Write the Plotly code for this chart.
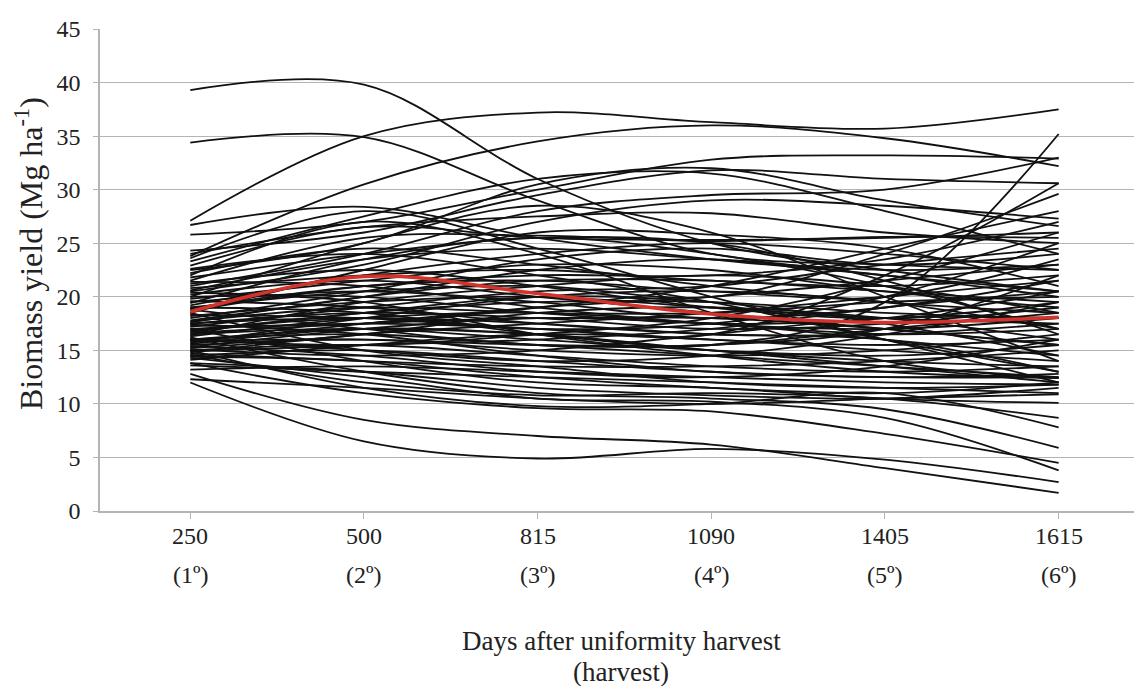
import plotly.graph_objects as go

days = ["250", "500", "815", "1090", "1405", "1615"]
harvests = ["(1º)", "(2º)", "(3º)", "(4º)", "(5º)", "(6º)"]

# Biomass yield (Mg/ha) of each genotype at each harvest (index i = genotype i)
y_250 = [39.3, 34.4, 27.1, 23.8, 26.7, 25.8, 24.3, 22.5, 21.0, 23.3,
         20.5, 24.0, 16.0, 17.5, 19.0, 22.9, 21.5, 23.6, 22.0, 20.0,
         21.8, 18.5, 20.8, 19.8, 19.5, 18.9, 18.2, 17.8, 17.5, 17.2,
         17.0, 16.8, 16.5, 16.3, 16.0, 15.8, 15.5, 15.3, 15.0, 14.8,
         14.5, 14.1, 13.2, 12.3, 12.0, 12.8, 13.8, 14.3, 16.2, 15.0,
         14.6, 17.0, 13.6, 18.5, 20.2, 21.2, 19.2, 18.0, 17.7, 16.9,
         16.6, 16.4, 15.9, 15.6, 15.2, 14.9, 14.7, 19.6, 20.6, 22.2,
         19.0, 18.7, 18.3, 17.4, 16.1, 15.4, 14.4, 13.8, 17.6, 20.0,
         21.4, 19.4, 16.7, 15.7, 15.1, 18.8, 17.3, 16.0, 22.6, 20.4]
y_500 = [39.8, 34.9, 35.0, 30.5, 28.4, 27.0, 26.0, 25.0, 24.0, 27.5,
         23.0, 26.5, 17.0, 18.0, 20.5, 26.5, 25.5, 28.0, 27.0, 25.0,
         24.0, 22.5, 22.0, 21.5, 20.5, 21.0, 19.5, 20.0, 18.5, 19.0,
         17.5, 18.5, 17.0, 18.0, 16.5, 17.5, 16.0, 17.0, 15.5, 16.5,
         15.0, 15.5, 13.5, 11.5, 6.5, 8.5, 11.0, 12.5, 13.0, 11.5,
         12.0, 14.0, 13.0, 15.0, 21.5, 22.5, 22.0, 20.5, 19.0, 18.0,
         17.5, 19.5, 16.0, 17.0, 16.5, 15.5, 14.0, 19.0, 23.5, 24.5,
         18.5, 21.0, 18.0, 16.5, 15.0, 14.5, 14.0, 13.0, 20.0, 20.0,
         21.0, 23.5, 18.5, 18.0, 14.5, 17.0, 17.5, 15.5, 24.0, 19.5]
y_815 = [31.0, 29.0, 37.2, 34.5, 25.5, 30.0, 29.5, 30.5, 28.0, 31.0,
         27.0, 27.5, 16.5, 17.0, 21.0, 25.5, 25.7, 24.5, 24.0, 28.5,
         25.5, 26.0, 22.5, 23.0, 19.5, 21.5, 20.0, 22.5, 18.0, 20.5,
         17.0, 19.5, 16.0, 18.5, 15.5, 19.0, 15.0, 18.0, 14.5, 17.5,
         14.0, 16.5, 13.0, 10.5, 4.9, 7.0, 9.6, 10.5, 11.0, 9.8,
         10.8, 12.0, 12.5, 13.5, 20.0, 21.0, 24.0, 23.5, 18.5, 17.5,
         18.0, 21.0, 15.5, 16.5, 18.5, 16.0, 13.5, 17.5, 24.5, 23.0,
         16.5, 22.0, 17.0, 14.5, 14.0, 13.0, 12.5, 11.5, 21.5, 18.5,
         19.0, 25.5, 20.0, 20.0, 15.0, 15.5, 19.0, 16.5, 22.0, 16.5]
y_1090 = [25.0, 24.0, 36.3, 36.0, 23.5, 32.8, 31.8, 32.0, 29.5, 31.5,
          29.0, 27.8, 15.5, 16.5, 20.0, 25.3, 25.2, 20.0, 18.5, 26.0,
          25.0, 25.8, 21.5, 22.5, 18.0, 20.5, 19.0, 23.5, 17.0, 21.0,
          16.0, 19.5, 15.0, 17.5, 14.5, 20.0, 14.5, 17.5, 13.5, 18.5,
          13.0, 16.0, 12.5, 10.0, 5.8, 6.2, 9.3, 10.2, 10.5, 10.0,
          11.0, 11.5, 12.0, 12.0, 18.5, 19.0, 25.0, 24.5, 18.5, 16.5,
          18.0, 22.0, 15.5, 15.0, 19.0, 17.0, 13.5, 16.5, 23.5, 21.0,
          15.0, 22.0, 17.5, 13.0, 14.5, 12.5, 11.5, 10.8, 21.5, 17.5,
          17.5, 24.0, 19.5, 20.5, 16.5, 15.5, 21.0, 18.0, 19.5, 14.5]
y_1405 = [22.5, 23.0, 35.7, 34.8, 22.0, 33.2, 31.0, 29.0, 30.0, 28.0,
          28.5, 26.0, 19.5, 22.0, 24.0, 25.5, 25.6, 16.0, 14.0, 20.0,
          21.5, 24.5, 21.0, 20.5, 19.0, 20.0, 18.0, 22.0, 17.5, 23.0,
          15.5, 18.5, 14.5, 16.5, 13.5, 21.5, 15.0, 16.0, 13.0, 20.0,
          12.5, 15.0, 12.0, 10.5, 4.8, 4.0, 7.2, 8.7, 9.5, 11.0,
          10.5, 10.5, 11.5, 11.5, 17.0, 18.0, 24.0, 23.0, 19.5, 16.0,
          17.0, 21.0, 17.0, 13.5, 18.0, 19.0, 14.0, 16.5, 22.5, 19.5,
          14.0, 23.5, 20.0, 12.5, 16.5, 13.5, 11.0, 10.5, 20.5, 18.0,
          17.0, 21.0, 17.5, 19.5, 18.0, 17.0, 24.5, 21.5, 16.0, 13.0]
y_1615 = [20.5, 22.5, 37.5, 32.2, 20.0, 32.9, 30.6, 26.6, 33.0, 24.0,
          27.3, 25.0, 35.2, 30.6, 29.6, 26.0, 25.5, 12.0, 12.4, 14.0,
          16.5, 21.0, 22.0, 19.0, 21.5, 23.5, 17.5, 20.5, 19.0, 24.5,
          16.0, 18.0, 15.5, 17.0, 12.5, 23.0, 16.5, 14.5, 13.5, 21.5,
          12.5, 14.0, 11.8, 10.9, 2.7, 1.7, 4.5, 3.8, 5.9, 7.8,
          8.7, 10.1, 11.0, 11.8, 15.5, 19.5, 22.5, 24.0, 20.0, 13.0,
          15.5, 18.5, 18.5, 12.0, 16.0, 20.5, 15.0, 17.5, 23.0, 18.5,
          13.5, 27.0, 25.0, 12.8, 19.5, 16.0, 12.0, 11.5, 19.5, 20.5,
          18.0, 17.0, 14.5, 17.0, 18.0, 22.0, 28.0, 26.0, 13.0, 12.4]

mean_yield = [18.6, 21.9, 20.3, 18.4, 17.6, 18.1]

SERIF = "Liberation Serif, Times New Roman, serif"
GRID = "#b4b4b4"
TXT = "#222222"

fig = go.Figure()
columns = [y_250, y_500, y_815, y_1090, y_1405, y_1615]
for i in range(len(y_250)):
    fig.add_trace(go.Scatter(
        x=days, y=[col[i] for col in columns], mode="lines",
        line=dict(color="#111111", width=1.8, shape="spline", smoothing=1.0),
        showlegend=False, hoverinfo="skip"))
fig.add_trace(go.Scatter(
    x=days, y=mean_yield, mode="lines",
    line=dict(color="#d2332b", width=3.5, shape="spline", smoothing=1.0),
    showlegend=False, name="Mean"))

# category tick labels drawn as two-row annotations (day / harvest number)
for idx, (d, h) in enumerate(zip(days, harvests)):
    fig.add_annotation(x=idx, xref="x", y=0, yref="paper", yshift=-25,
                       text=d, showarrow=False, yanchor="middle",
                       font=dict(family=SERIF, size=24, color=TXT))
    fig.add_annotation(x=idx, xref="x", y=0, yref="paper", yshift=-64,
                       text=h, showarrow=False, yanchor="middle",
                       font=dict(family=SERIF, size=24, color=TXT))

fig.add_annotation(x=0.5, xref="paper", y=0, yref="paper", yshift=-130,
                   text="Days after uniformity harvest",
                   showarrow=False, yanchor="middle",
                   font=dict(family=SERIF, size=27, color=TXT))
fig.add_annotation(x=0.5, xref="paper", y=0, yref="paper", yshift=-161,
                   text="(harvest)",
                   showarrow=False, yanchor="middle",
                   font=dict(family=SERIF, size=27, color=TXT))
fig.add_annotation(x=0, xref="paper", xshift=-71, y=0.5, yref="paper",
                   yshift=16,
                   text="Biomass yield (Mg ha<sup>-1</sup>)", textangle=-90,
                   showarrow=False, xanchor="center", yanchor="middle",
                   font=dict(family=SERIF, size=32, color=TXT))

# the page adds an 8 px body margin, so margins compensate for it
fig.update_layout(
    width=1142, height=686,
    margin=dict(l=92, r=8, t=15, b=183),
    plot_bgcolor="white", paper_bgcolor="white",
    font=dict(family=SERIF, size=24, color=TXT),
    xaxis=dict(type="category", range=[-0.52, 5.48], showgrid=False,
               showline=True, linecolor=GRID, linewidth=1.5,
               ticks="outside", ticklen=6, tickcolor=GRID,
               showticklabels=False, zeroline=False, fixedrange=True),
    yaxis=dict(range=[0, 45], dtick=5, tick0=0, showgrid=True,
               gridcolor=GRID, gridwidth=1, showline=True, linecolor=GRID,
               linewidth=1.5, ticks="outside", ticklen=5, tickcolor=GRID,
               ticklabelstandoff=8,
               tickfont=dict(family=SERIF, size=24, color=TXT),
               zeroline=False, fixedrange=True),
)

fig.write_html("out.html")
